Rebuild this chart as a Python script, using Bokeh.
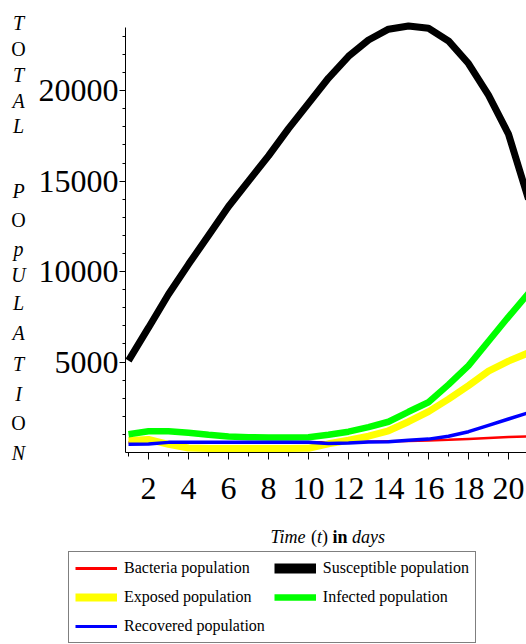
from bokeh.plotting import figure
from bokeh.layouts import column, row
from bokeh.models import Range1d, FixedTicker, Label, Legend, LegendItem
from bokeh.embed import file_html
from bokeh.resources import INLINE

# ---------------- data ----------------
days = list(range(1, 22))
bacteria    = [560, 560, 560, 560, 560, 560, 560, 560, 560, 560, 560,
               580, 600, 620, 640, 660, 700, 750, 800, 850, 890]
susceptible = [5080, 6900, 8750, 10400, 12000, 13600, 15000, 16400, 17900, 19300, 20700,
               21900, 22800, 23400, 23580, 23450, 22750, 21500, 19750, 17600, 14000]
exposed     = [660, 720, 450, 250, 220, 220, 220, 220, 220, 230, 480,
               680, 900, 1200, 1700, 2260, 2950, 3700, 4500, 5050, 5510]
infected    = [1010, 1170, 1180, 1090, 980, 880, 840, 830, 830, 840, 980,
               1150, 1400, 1700, 2250, 2780, 3750, 4800, 6150, 7500, 8800]
recovered   = [460, 470, 560, 570, 570, 570, 570, 570, 570, 570, 500,
               530, 580, 600, 680, 740, 900, 1150, 1500, 1850, 2200]

series_names  = ["Bacteria population", "Susceptible population", "Exposed population",
                 "Infected population", "Recovered population"]
series_colors = ["#ff0000", "#000000", "#ffff00", "#00ff00", "#0000ff"]
series_widths = [2.5, 7, 7, 6.5, 3.5]      # widths in the chart
legend_widths = [3, 10, 8, 6.5, 3]         # widths of the legend samples

x_major = [2, 4, 6, 8, 10, 12, 14, 16, 18, 20]
x_minor = [1, 3, 5, 7, 9, 11, 13, 15, 17, 19, 21]
y_major = [5000, 10000, 15000, 20000]
y_minor = [1000, 2000, 3000, 4000, 6000, 7000, 8000, 9000, 11000, 12000, 13000, 14000,
           16000, 17000, 18000, 19000, 21000, 22000, 23000]

ylabel_letters = ["T", "O", "T", "A", "L", "P", "O", "p", "U", "L", "A", "T", "I", "O", "N"]
ylabel_styles  = ["italic", "normal", "italic", "italic", "italic", "italic", "normal", "italic",
                  "italic", "italic", "italic", "italic", "italic", "normal", "italic"]

FONT = "Liberation Serif"

# ---------------- layout constants (pixels) ----------------
TOTAL_W = 526
TOP_H = 518          # height of the chart row
LEG_H = 126          # height of the title + legend strip
LETTER_W = 34        # width of the strip with the stacked y title
MAIN_TOP, MAIN_BOTTOM = 20, 66

def blank_fig(w, h, y0=None, y1=None):
    f = figure(width=w, height=h, x_range=Range1d(0, w),
               y_range=Range1d(h if y0 is None else y0, 0 if y1 is None else y1),
               output_backend="svg", toolbar_location=None,
               min_border_left=0, min_border_right=0, min_border_top=0, min_border_bottom=0)
    f.axis.visible = False
    f.xgrid.visible = False
    f.ygrid.visible = False
    f.outline_line_color = None
    f.background_fill_color = "white"
    f.border_fill_color = "white"
    return f

# ---------------- stacked y-axis title ----------------
pl = blank_fig(LETTER_W, TOP_H)
try:
    pl.frame_align = False          # keep this strip's frame independent of the chart
except Exception:
    # frames get aligned to the chart's frame: map page pixels onto that frame instead
    pl.min_border_top = MAIN_TOP
    pl.min_border_bottom = MAIN_BOTTOM
    pl.y_range = Range1d(TOP_H - MAIN_BOTTOM + 12, MAIN_TOP - 12)
letter_py = [22, 48, 74, 100, 125, 190, 219, 248, 274, 302, 332, 363, 393, 422, 452]
for ch, st, py in zip(ylabel_letters, ylabel_styles, letter_py):
    pl.add_layout(Label(x=18, y=py, text=ch, text_font=FONT, text_font_size="20px",
                        text_font_style=st, text_align="center", text_baseline="middle",
                        text_color="black"))

# ---------------- main chart ----------------
MW = TOTAL_W - LETTER_W
p = figure(width=MW, height=TOP_H, x_range=Range1d(0.85, 20.9), y_range=Range1d(0, 23880),
           output_backend="svg", toolbar_location=None,
           min_border_left=91, min_border_right=0,
           min_border_top=MAIN_TOP, min_border_bottom=MAIN_BOTTOM)
p.outline_line_color = None
p.xgrid.visible = False
p.ygrid.visible = False
p.background_fill_color = "white"
p.border_fill_color = "white"

p.xaxis.ticker = FixedTicker(ticks=x_major, minor_ticks=x_minor)
p.yaxis.ticker = FixedTicker(ticks=y_major, minor_ticks=y_minor)
p.yaxis.bounds = (0, 23500)
for ax in (p.xaxis, p.yaxis):
    ax.axis_line_color = "black"
    ax.axis_line_width = 1
    ax.major_tick_line_color = "black"
    ax.minor_tick_line_color = "black"
    ax.major_tick_in = 0
    ax.minor_tick_in = 0
    ax.major_label_text_font = FONT
    ax.major_label_text_font_size = "32px"
    ax.major_label_text_color = "black"
p.xaxis.major_tick_out = 7
p.xaxis.minor_tick_out = 4
p.xaxis.major_label_standoff = 18
p.yaxis.major_tick_out = 6
p.yaxis.minor_tick_out = 3
p.yaxis.major_label_standoff = 1

values = [bacteria, susceptible, exposed, infected, recovered]
for vals, c, w in zip(values, series_colors, series_widths):
    p.line(days, vals, line_color=c, line_width=w)

# ---------------- x title + legend strip ----------------
pb = blank_fig(TOTAL_W, LEG_H)
title_py = 18
pieces = [("Time", "italic", 270), ("(", "normal", 310.5), ("t", "italic", 316.5),
          (")", "normal", 321.5), ("in", "bold", 332), ("days", "italic", 351.5)]
for txt, st, px in pieces:
    pb.add_layout(Label(x=px, y=title_py, text=txt, text_font=FONT, text_font_size="18px",
                        text_font_style=st, text_align="left", text_baseline="middle",
                        text_color="black"))

# hidden copies of the series, only used to draw the legend samples
legend_renderers = [pb.line(days, vals, line_color=c, line_width=w, visible=False)
                    for vals, c, w in zip(values, series_colors, legend_widths)]
legend = Legend(items=[LegendItem(label=n, renderers=[r])
                       for n, r in zip(series_names, legend_renderers)],
                ncols=2, orientation="horizontal", location=(68, 1),
                margin=0, padding=6, spacing=9, glyph_width=42, glyph_height=20,
                label_height=20, label_standoff=7, label_text_font=FONT,
                label_text_font_size="16px", label_text_color="black",
                border_line_color="black", border_line_width=1.2,
                background_fill_color="white", background_fill_alpha=1,
                inactive_fill_alpha=0)
pb.add_layout(legend, "center")

layout = column(row(pl, p), pb)
open("out.html", "w").write(file_html(layout, INLINE))
